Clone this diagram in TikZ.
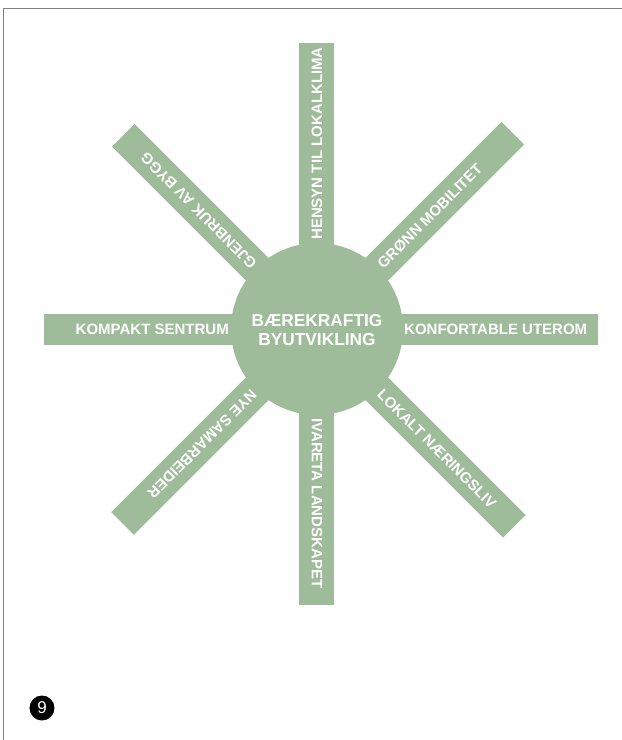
\documentclass[tikz,border=0pt]{standalone}
\usepackage{fontspec}
\setmainfont{Liberation Sans}
\definecolor{sage}{RGB}{158,187,154}
\definecolor{framegray}{RGB}{130,130,130}
\begin{document}
\begin{tikzpicture}[x=1pt,y=1pt,
  lbl/.style={text=white,font=\bfseries\fontsize{15}{15}\selectfont,inner sep=0pt,anchor=west},
  hubstyle/.style={circle,fill=sage,minimum size=172pt,inner sep=0pt},
  titlestyle/.style={text=white,font=\bfseries\fontsize{17.3}{18.5}\selectfont,align=center,inner sep=0pt},
  numstyle/.style={circle,fill=black,minimum size=25pt,inner sep=0pt,text=white,font=\fontsize{17}{17}\selectfont}
]
\useasboundingbox (-317,-411) rectangle (305,329);
\fill[white] (-317,-411) rectangle (305,329);
\draw[framegray,line width=1.2pt] (305,320.5) -- (-313.5,320.5) -- (-313.5,-411);
% bars
\foreach \a/\l/\w in {90/286/35,-90/276/35,0/281/31,180/273/31,45/277/32,135/274/32,-45/279/32,-135/275/32}
  \fill[sage,rotate=\a] (0,-\w/2) rectangle (\l,\w/2);
\node[hubstyle] (hub) at (0,0) {};
\node[titlestyle] (title) at (0,-1) {BÆREKRAFTIG\\BYUTVIKLING};
% labels
\node[lbl,rotate=90] (klima) at (90:89) {HENSYN TIL LOKALKLIMA};
\node[lbl,rotate=45] (mobil) at (45:89) {GRØNN MOBILITET};
\node[lbl] (uterom) at (0:87) {KONFORTABLE UTEROM};
\node[lbl,rotate=-45] (naering) at (-45:89) {LOKALT NÆRINGSLIV};
\node[lbl,rotate=-90] (landskap) at (-90:89) {IVARETA LANDSKAPET};
\node[lbl,rotate=-135] (samarb) at (-135:89) {NYE SAMARBEIDER};
\node[lbl,anchor=east] (sentrum) at (180:88) {KOMPAKT SENTRUM};
\node[lbl,rotate=135] (gjenbruk) at (135:89) {GJENBRUK AV BYGG};
% page number
\node[numstyle] (num) at (-275,-379) {9};
\end{tikzpicture}
\end{document}
